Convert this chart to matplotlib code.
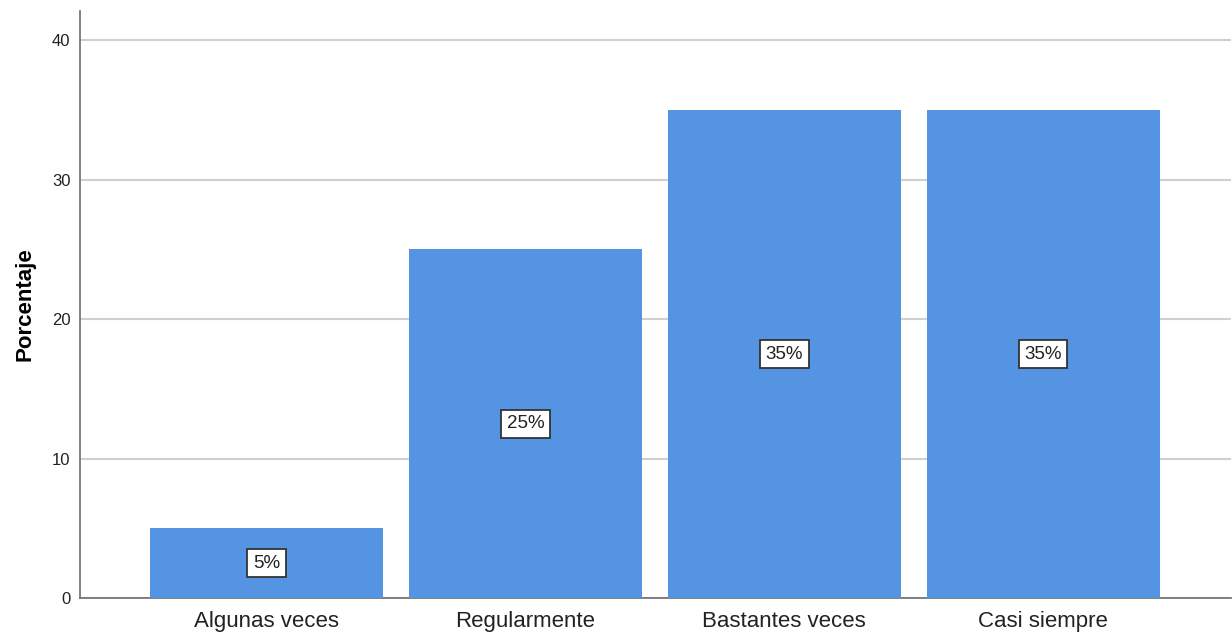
import numpy as np
import matplotlib
matplotlib.use("Agg")
import matplotlib.pyplot as plt

categorias = ["Algunas veces", "Regularmente", "Bastantes veces", "Casi siempre"]
porcentajes = [5, 25, 35, 35]
etiquetas = ["5%", "25%", "35%", "35%"]

plt.rcParams['font.family'] = ['Liberation Sans', 'DejaVu Sans']

fig = plt.figure(figsize=(12.32, 6.35), dpi=100)
ax = fig.add_axes([0.065, 0.058, 0.934, 0.925])

x = np.arange(len(categorias))
ax.bar(x, porcentajes, width=0.9, color="#5494e2", zorder=3)

# etiqueta con el porcentaje en el centro de cada barra
for xi, v, lab in zip(x, porcentajes, etiquetas):
    ax.text(xi, v / 2, lab, ha="center", va="center", fontsize=13.5, color="#222222",
            zorder=4,
            bbox=dict(boxstyle="square,pad=0.3", fc="white", ec="#333333", lw=1.3))

ax.set_xlim(-0.72, 3.725)
ax.set_ylim(0, 42.1)
ax.set_yticks([0, 10, 20, 30, 40])
ax.yaxis.grid(True, color="#d0d0d0", lw=1.5, zorder=0)
ax.set_xticks(x)
ax.set_xticklabels(categorias, fontsize=16, color="#222222")
ax.tick_params(axis="y", labelsize=12, length=0, pad=7, colors="#222222")
ax.tick_params(axis="x", length=0, pad=9)
ax.set_ylabel("Porcentaje", fontsize=16, fontweight="bold", labelpad=12)

for s in ["top", "right"]:
    ax.spines[s].set_visible(False)
for s in ["left", "bottom"]:
    ax.spines[s].set_color("#777777")
    ax.spines[s].set_linewidth(1.3)

fig.savefig("out.png", dpi=100)
